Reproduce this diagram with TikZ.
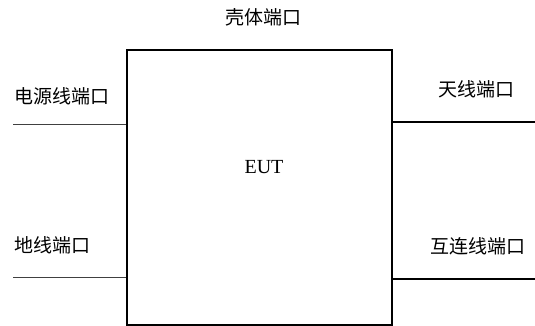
\documentclass[tikz,border=0pt]{standalone}
\usepackage{fontspec}
\setmainfont{Liberation Serif}
\newfontfamily\cjk{Noto Sans CJK SC}
\begin{document}
\begin{tikzpicture}[x=1pt,y=-1pt,
  lbl/.style={font=\cjk\fontsize{19}{21}\selectfont, inner sep=0pt, anchor=center},
  thinline/.style={line width=0.8pt, draw=black!75},
  thickline/.style={line width=1.4pt, draw=black}]
\useasboundingbox (0,0) rectangle (535,326);
\node[draw, line width=1.5pt, minimum width=265pt, minimum height=275pt, inner sep=0pt] (box) at (259.5,187.5) {};
\node[font=\fontsize{20}{22}\selectfont, inner sep=0pt] (eut) at (264,167) {EUT};
\node[lbl] (case) at (263,17) {壳体端口};
\node[lbl] (power) at (62,96) {电源线端口};
\node[lbl] (ant) at (476,89) {天线端口};
\node[lbl] (gnd) at (52,245) {地线端口};
\node[lbl] (inter) at (478,246) {互连线端口};
\coordinate (pl) at (13,124);
\coordinate (gl) at (13,277);
\coordinate (ar) at (535,122);
\coordinate (ir) at (535,279);
\draw[thinline] (pl) -- (box.west |- pl);
\draw[thinline] (gl) -- (box.west |- gl);
\draw[thickline] (box.east |- ar) -- (ar);
\draw[thickline] (box.east |- ir) -- (ir);
\end{tikzpicture}
\end{document}
